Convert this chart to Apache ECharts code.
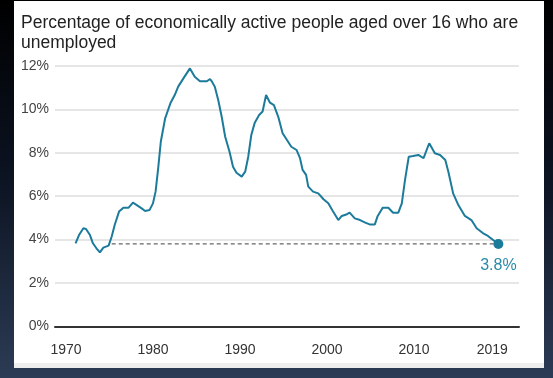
<!DOCTYPE html>
<html>
<head>
<meta charset="utf-8">
<script src="https://cdn.jsdelivr.net/npm/echarts@6/dist/echarts.min.js"></script>
<style>
  html, body { margin: 0; padding: 0; }
  body {
    width: 553px; height: 378px; overflow: hidden; position: relative;
    background: linear-gradient(180deg, #000 0%, #0b1220 45%, #2c3b55 100%);
  }
  .panel {
    position: absolute; left: 14px; top: 1px; width: 530px; height: 362px;
    background: #fff; border-bottom: 5px solid #eeeeee;
  }
  #chart { position: absolute; left: 0; top: 0; width: 553px; height: 378px; }
</style>
</head>
<body>
<div class="panel"></div>
<div id="chart"></div>
<script>
// decimal years
const years = [
  1971.1, 1971.5, 1972.0, 1972.3, 1972.76, 1973.1, 1973.5, 1973.9, 1974.3, 1974.9,
  1975.25, 1975.6, 1976.1, 1976.6, 1977.2, 1977.7, 1978.1, 1978.7, 1979.1, 1979.6,
  1980.0, 1980.3, 1980.6, 1980.9, 1981.4, 1982.0, 1982.5, 1982.9, 1983.5, 1984.25,
  1984.8, 1985.4, 1986.2, 1986.55, 1986.75, 1987.1, 1987.5, 1987.9, 1988.3, 1988.8,
  1989.2, 1989.6, 1990.2, 1990.6, 1990.95, 1991.3, 1991.7, 1992.2, 1992.6, 1993.0,
  1993.45, 1993.9, 1994.4, 1994.9, 1995.4, 1995.9, 1996.5, 1996.9, 1997.2, 1997.6,
  1997.85, 1998.4, 1999.0, 1999.6, 2000.15, 2000.65, 2001.3, 2001.7, 2002.3, 2002.6,
  2003.2, 2003.8, 2004.4, 2004.9, 2005.5, 2005.8, 2006.4, 2007.05, 2007.6, 2008.2,
  2008.6, 2008.97, 2009.4, 2009.9, 2010.5, 2011.1, 2011.75, 2012.4, 2013.0, 2013.6,
  2013.95, 2014.5, 2015.1, 2015.85, 2016.6, 2017.2, 2017.95, 2018.5, 2019.1, 2019.7
]
// unemployment rate, %
const rates = [
  3.83, 4.21, 4.52, 4.49, 4.21, 3.83, 3.6, 3.41, 3.63, 3.72,
  4.13, 4.67, 5.29, 5.47, 5.47, 5.7, 5.6, 5.44, 5.32, 5.36,
  5.67, 6.21, 7.29, 8.51, 9.59, 10.28, 10.66, 11.05, 11.43, 11.89,
  11.5, 11.3, 11.3, 11.4, 11.3, 11.05, 10.43, 9.66, 8.74, 8.05,
  7.36, 7.08, 6.9, 7.13, 7.82, 8.82, 9.39, 9.74, 9.9, 10.66,
  10.31, 10.2, 9.66, 8.9, 8.59, 8.28, 8.13, 7.75, 7.21, 6.98,
  6.44, 6.21, 6.13, 5.86, 5.67, 5.33, 4.9, 5.09, 5.17, 5.24,
  4.98, 4.9, 4.78, 4.7, 4.7, 5.06, 5.47, 5.47, 5.24, 5.24,
  5.67, 6.75, 7.82, 7.85, 7.9, 7.75, 8.44, 7.98, 7.9, 7.67,
  7.13, 6.13, 5.59, 5.09, 4.9, 4.52, 4.29, 4.17, 3.98, 3.8
]
const yearTicks = [1970, 1980, 1990, 2000, 2010, 2019]
const dashStart = 1975.26 // where the dotted reference line begins

const lastYear = years[years.length - 1]
const lastRate = rates[rates.length - 1]
const teal = '#1c7b9b'
const font = 'Liberation Sans, Arial, Helvetica, sans-serif'

const chart = echarts.init(document.getElementById('chart'))
chart.setOption({
  animation: false,
  backgroundColor: 'transparent',
  title: {
    text: 'Percentage of economically active people aged over 16 who are\nunemployed',
    left: 16,
    top: 8,
    textStyle: { fontFamily: font, fontSize: 17.5, fontWeight: 'normal', color: '#222', lineHeight: 20 },
  },
  grid: { left: 55, right: 34, top: 66, bottom: 51.6, containLabel: false },
  xAxis: {
    type: 'value',
    min: 1968.74,
    max: 2022.07,
    splitLine: { show: false },
    axisTick: { show: false },
    axisLine: { show: true, lineStyle: { color: '#333', width: 2 } },
    axisLabel: {
      customValues: yearTicks,
      formatter: (v) => String(v),
      margin: 17,
      color: '#333',
      fontSize: 14,
      fontFamily: font,
    },
  },
  yAxis: {
    type: 'value',
    min: 0,
    max: 12,
    interval: 2,
    axisLine: { show: false },
    axisTick: { show: false },
    splitLine: { lineStyle: { color: '#dedede', width: 1.5 } },
    axisLabel: { formatter: '{value}%', margin: 6, color: '#444', fontSize: 14, fontFamily: font },
  },
  series: [
    {
      // dotted line at latest value
      type: 'line',
      data: [[dashStart, lastRate], [lastYear, lastRate]],
      showSymbol: false,
      lineStyle: { color: '#666', width: 1.2, type: [4, 3] },
      z: 1,
      silent: true,
    },
    {
      type: 'line',
      data: years.map((y, i) => [y, rates[i]]),
      showSymbol: false,
      lineStyle: { color: teal, width: 2 },
      z: 3,
    },
    {
      type: 'scatter',
      data: [[lastYear, lastRate]],
      symbolSize: 10,
      itemStyle: { color: teal, opacity: 1 },
      label: {
        show: true,
        position: 'bottom',
        distance: 9,
        formatter: lastRate + '%',
        color: '#2a8aa8',
        fontSize: 16,
        fontFamily: font,
      },
      z: 4,
    },
  ],
})
</script>
</body>
</html>
